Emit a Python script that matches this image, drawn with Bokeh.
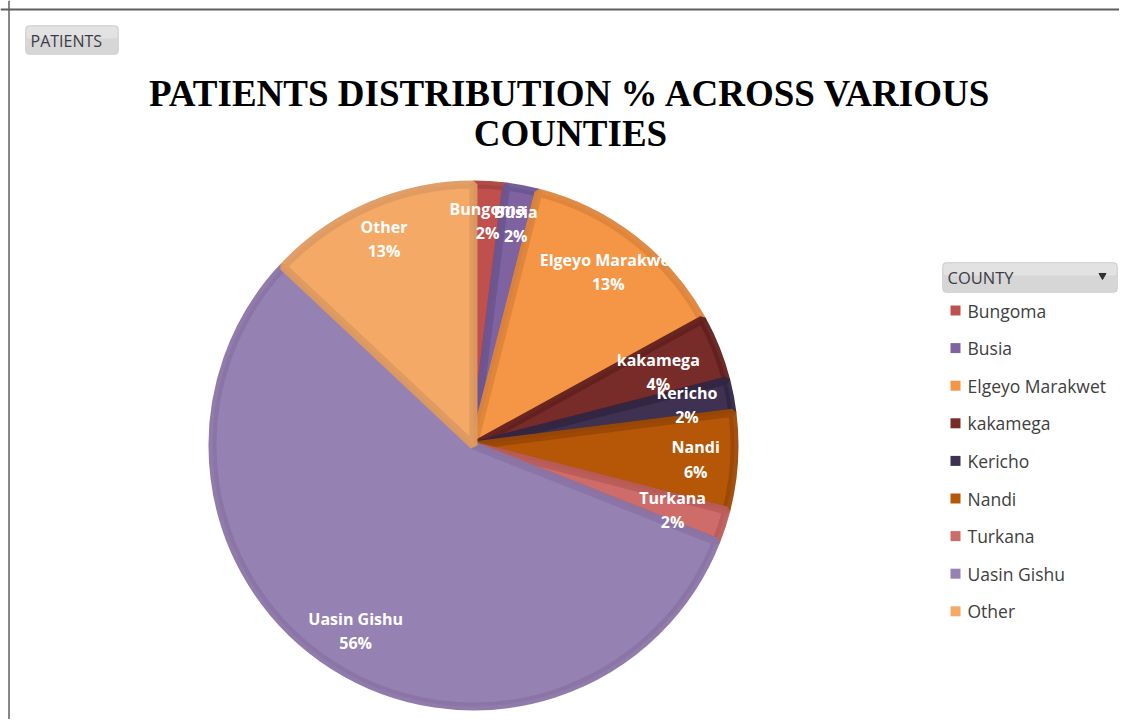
import math
from bokeh.plotting import figure
from bokeh.models import Range1d, Span, BoxAnnotation, ColumnDataSource
from bokeh.core.properties import value
from bokeh.embed import file_html
from bokeh.resources import INLINE

# ---- data ----
counties = ["Bungoma", "Busia", "Elgeyo Marakwet", "kakamega", "Kericho",
            "Nandi", "Turkana", "Uasin Gishu", "Other"]
shares = [2, 2, 13, 4, 2, 6, 2, 56, 13]
fill_colors = ["#C0504D", "#7F63A1", "#F59546", "#772C2A", "#3F3151",
               "#B65708", "#CD6C69", "#9681B3", "#F4A966"]
edge_colors = ["#A9423F", "#6D5590", "#DE853B", "#62201E", "#312642",
               "#9C4905", "#B95D5A", "#8A74A7", "#DE9A60"]
title_lines = ["PATIENTS DISTRIBUTION % ACROSS VARIOUS", "COUNTIES"]

# ---- layout (pixels, origin bottom-left of the canvas) ----
W, H = 1119, 719
def Y(sy):  # screen y -> data y
    return H - sy
def X(sx):
    return sx

cx, cy, R = X(473), Y(445), 265
label_frac = [0.85, 0.85, 0.83, 0.75, 0.82, 0.84, 0.79, 0.83, 0.85]

p = figure(width=W, height=H, output_backend="svg", toolbar_location=None,
           x_range=Range1d(0, W), y_range=Range1d(0, H),
           x_axis_type=None, y_axis_type=None, min_border=0)
p.grid.visible = False
p.outline_line_color = None
p.background_fill_color = "white"
p.border_fill_color = "white"

# frame lines (top and left)
p.add_layout(Span(location=Y(9), dimension="width", line_color="#5F5F5F", line_width=2))
p.add_layout(Span(location=X(8.5), dimension="height", line_color="#5F5F5F", line_width=1.5))

# ---- pie ----
total = float(sum(shares))
starts, ends, mids = [], [], []
cum = 0.0
for s in shares:
    a0 = cum / total
    cum += s
    a1 = cum / total
    starts.append(math.pi / 2 - 2 * math.pi * a1)
    ends.append(math.pi / 2 - 2 * math.pi * a0)
    mids.append(math.pi / 2 - 2 * math.pi * (a0 + a1) / 2)

src = ColumnDataSource(dict(start=starts, end=ends, fill=fill_colors, edge=edge_colors))
p.wedge(x=cx, y=cy, radius=R - 4, start_angle="start", end_angle="end",
        direction="anticlock", fill_color="fill", line_color="edge",
        line_width=8, line_alpha=0.95, source=src)

lx = [cx + f * R * math.cos(m) for f, m in zip(label_frac, mids)]
ly = [cy + f * R * math.sin(m) for f, m in zip(label_frac, mids)]
labels = [f"{c}\n{s}%" for c, s in zip(counties, shares)]
p.text(x=lx, y=ly, text=labels, text_color="white", text_font=value("Open Sans"),
       text_font_style="bold", text_font_size="16px", text_align="center",
       text_baseline="middle", text_line_height=1.1)

# ---- title ----
p.text(x=[X(570), X(570)], y=[Y(93), Y(133)], text=title_lines,
       text_font=value("Liberation Serif"), text_font_style="bold",
       text_font_size="37px", text_color="black", text_align="center",
       text_baseline="middle")

# ---- PATIENTS field button ----
p.add_layout(BoxAnnotation(left=X(25), right=X(118), top=Y(25), bottom=Y(54),
                           fill_color="#D6D6D6", fill_alpha=1, level="underlay",
                           line_color="#A8A8A8", line_width=1, border_radius=4))
p.add_layout(BoxAnnotation(left=X(26), right=X(117), top=Y(26), bottom=Y(38),
                           fill_color="#E2E2E2", fill_alpha=1, level="underlay",
                           line_color=None, border_radius=3))
p.text(x=[X(30)], y=[Y(40)], text=["PATIENTS"], text_font=value("Open Sans"),
       text_font_size="16px", text_color="#3C3C46", text_align="left",
       text_baseline="middle")

# ---- COUNTY legend header ----
p.add_layout(BoxAnnotation(left=X(942), right=X(1117), top=Y(262), bottom=Y(292),
                           fill_color="#D6D6D6", fill_alpha=1, level="underlay",
                           line_color="#A8A8A8", line_width=1, border_radius=4))
p.add_layout(BoxAnnotation(left=X(943), right=X(1116), top=Y(263), bottom=Y(275),
                           fill_color="#E2E2E2", fill_alpha=1, level="underlay",
                           line_color=None, border_radius=3))
p.text(x=[X(947)], y=[Y(277)], text=["COUNTY"], text_font=value("Open Sans"),
       text_font_size="16.5px", text_color="#3C3C46", text_align="left",
       text_baseline="middle")
p.scatter(x=[X(1102)], y=[Y(275)], marker="inverted_triangle", size=7,
          fill_color="#303030", line_color="#303030")

# ---- legend entries ----
row0, step = 310, 37.6
leg_y = [Y(row0 + i * step) for i in range(len(counties))]
p.scatter(x=[X(955)] * len(counties), y=leg_y, marker="square", size=10,
          fill_color=fill_colors, line_color=None)
p.text(x=[X(967)] * len(counties), y=leg_y, text=counties, text_font=value("Open Sans"),
       text_font_size="17.5px", text_color="#404040", text_align="left",
       text_baseline="middle")

open("out.html", "w").write(file_html(p, INLINE))
